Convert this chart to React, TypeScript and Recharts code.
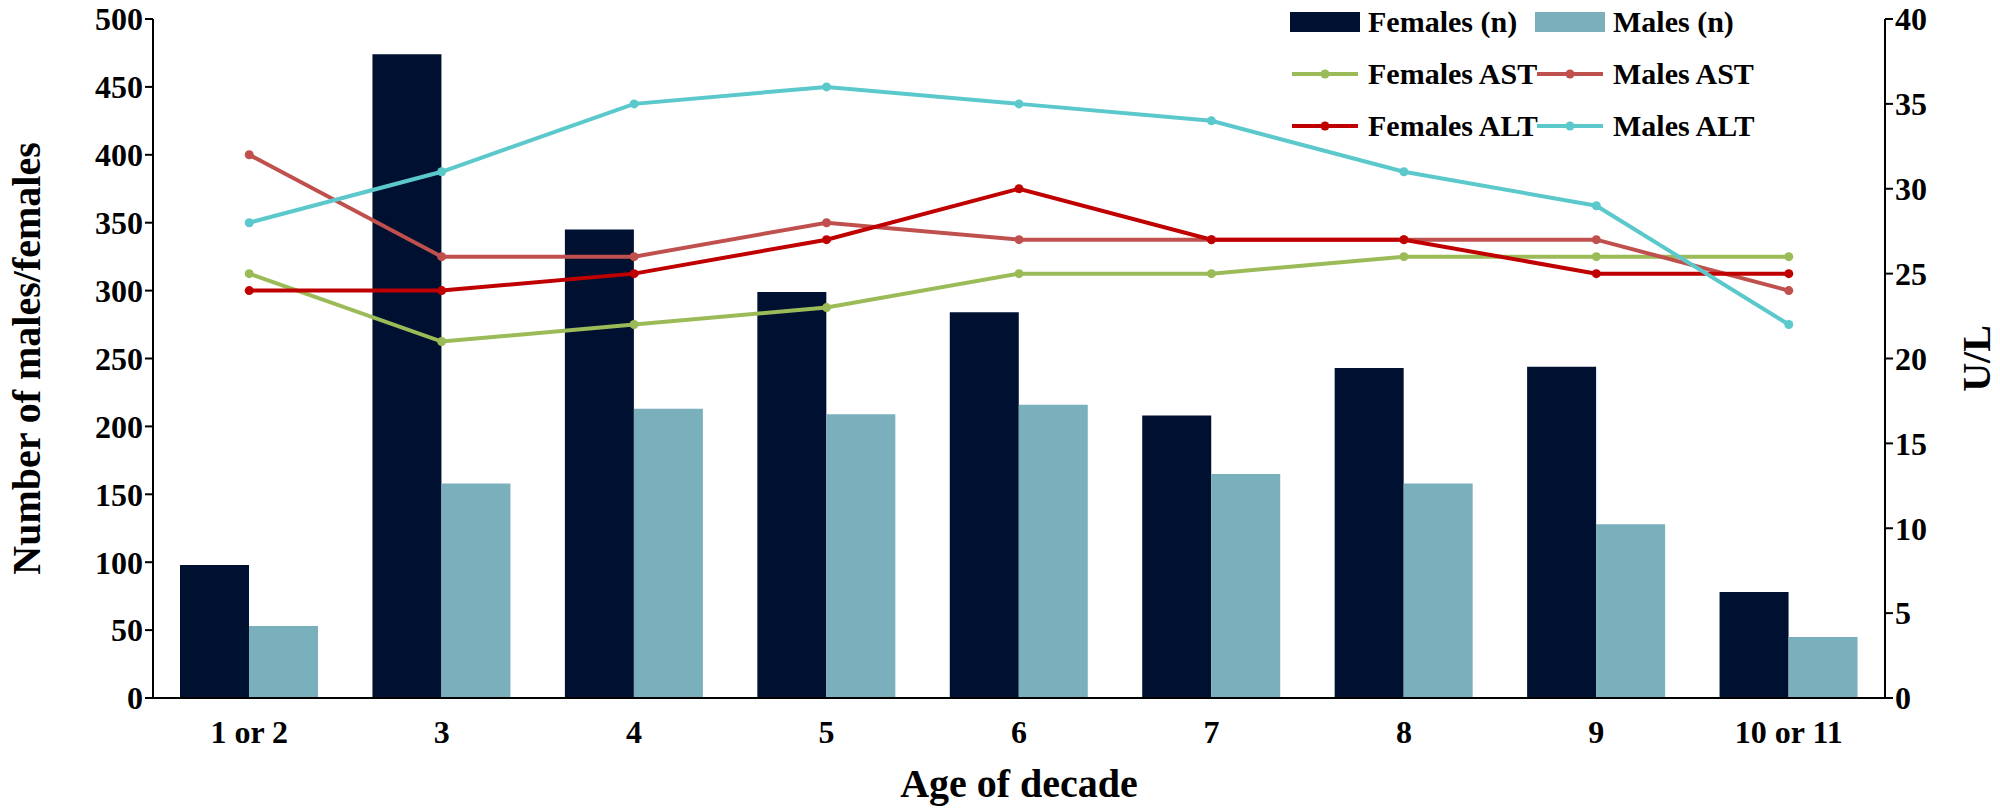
import React from "react";
import { ComposedChart, Bar, Line, XAxis, YAxis } from "recharts";

const categories = ["1 or 2", "3", "4", "5", "6", "7", "8", "9", "10 or 11"];
const femalesN = [98, 474, 345, 299, 284, 208, 243, 244, 78];
const malesN = [53, 158, 213, 209, 216, 165, 158, 128, 45];
const femalesAST = [25, 21, 22, 23, 25, 25, 26, 26, 26];
const malesAST = [32, 26, 26, 28, 27, 27, 27, 27, 24];
const femalesALT = [24, 24, 25, 27, 30, 27, 27, 25, 25];
const malesALT = [28, 31, 35, 36, 35, 34, 31, 29, 22];
const leftTicks = [0, 50, 100, 150, 200, 250, 300, 350, 400, 450, 500];
const rightTicks = [0, 5, 10, 15, 20, 25, 30, 35, 40];

const data = categories.map((c, i) => ({
  cat: c,
  fN: femalesN[i],
  mN: malesN[i],
  fAST: femalesAST[i],
  mAST: malesAST[i],
  fALT: femalesALT[i],
  mALT: malesALT[i],
}));

const FONT = "'Liberation Serif', 'Times New Roman', serif";
const C = {
  fN: "#001030",
  mN: "#7AAFBC",
  fAST: "#9BBB59",
  mAST: "#C0504D",
  fALT: "#C00000",
  mALT: "#5BC8CC",
};

const tick = { fill: "#000", fontSize: 32, fontWeight: 700, fontFamily: FONT };
const titleStyle = { textAnchor: "middle", fontSize: 40, fontWeight: 700, fontFamily: FONT, fill: "#000" };

const legendItems = [
  { label: "Females (n)", color: C.fN, bar: true, x: 1290, y: 2 },
  { label: "Males (n)", color: C.mN, bar: true, x: 1535, y: 2 },
  { label: "Females AST", color: C.fAST, bar: false, x: 1290, y: 54 },
  { label: "Males AST", color: C.mAST, bar: false, x: 1535, y: 54 },
  { label: "Females ALT", color: C.fALT, bar: false, x: 1290, y: 106 },
  { label: "Males ALT", color: C.mALT, bar: false, x: 1535, y: 106 },
];

export default function App() {
  return (
    <div style={{ position: "absolute", left: 0, top: 0, width: 2000, height: 811, background: "#fff" }}>
      <ComposedChart
        width={2000}
        height={811}
        data={data}
        margin={{ top: 19, right: 0, bottom: 0, left: 0 }}
        barGap={0}
      >
        <XAxis
          dataKey="cat"
          tick={tick}
          tickLine={false}
          axisLine={{ stroke: "#000", strokeWidth: 2 }}
          height={113}
          tickMargin={16}
          label={{ value: "Age of decade", position: "insideBottom", offset: 14, style: titleStyle }}
        />
        <YAxis
          yAxisId="left"
          domain={[0, 500]}
          ticks={leftTicks}
          tick={tick}
          width={153}
          axisLine={{ stroke: "#000", strokeWidth: 2 }}
          tickLine={{ stroke: "#000", strokeWidth: 2 }}
          tickSize={8}
          interval={0}
          label={{ value: "Number of males/females", angle: -90, position: "insideLeft", offset: 26, style: titleStyle }}
        />
        <YAxis
          yAxisId="right"
          orientation="right"
          domain={[0, 40]}
          ticks={rightTicks}
          tick={{ ...tick, textAnchor: "start" }}
          width={115}
          axisLine={{ stroke: "#000", strokeWidth: 2 }}
          tickLine={{ stroke: "#000", strokeWidth: 2 }}
          tickSize={8}
          interval={0}
          label={{ value: "U/L", angle: -90, position: "insideRight", offset: 24, style: titleStyle }}
        />
        <Bar yAxisId="left" dataKey="fN" fill={C.fN} barSize={69} isAnimationActive={false} />
        <Bar yAxisId="left" dataKey="mN" fill={C.mN} barSize={69} isAnimationActive={false} />
        {(["fAST", "mAST", "fALT", "mALT"] as const).map((k) => (
          <Line
            key={k}
            yAxisId="right"
            dataKey={k}
            type="linear"
            stroke={C[k]}
            strokeWidth={4}
            dot={{ r: 4.5, fill: C[k], stroke: C[k], strokeWidth: 0 }}
            isAnimationActive={false}
          />
        ))}
      </ComposedChart>
      {legendItems.map((it) => (
        <div
          key={it.label}
          style={{
            position: "absolute",
            left: it.x,
            top: it.y,
            height: 40,
            display: "flex",
            alignItems: "center",
            fontFamily: FONT,
            fontWeight: 700,
            fontSize: 30,
            color: "#000",
            whiteSpace: "nowrap",
          }}
        >
          {it.bar ? (
            <div style={{ width: 70, height: 20, background: it.color, marginRight: 8 }} />
          ) : (
            <svg width={70} height={20} style={{ marginRight: 8 }}>
              <line x1={2} y1={10} x2={68} y2={10} stroke={it.color} strokeWidth={4} />
              <circle cx={35} cy={10} r={4.5} fill={it.color} />
            </svg>
          )}
          {it.label}
        </div>
      ))}
    </div>
  );
}
